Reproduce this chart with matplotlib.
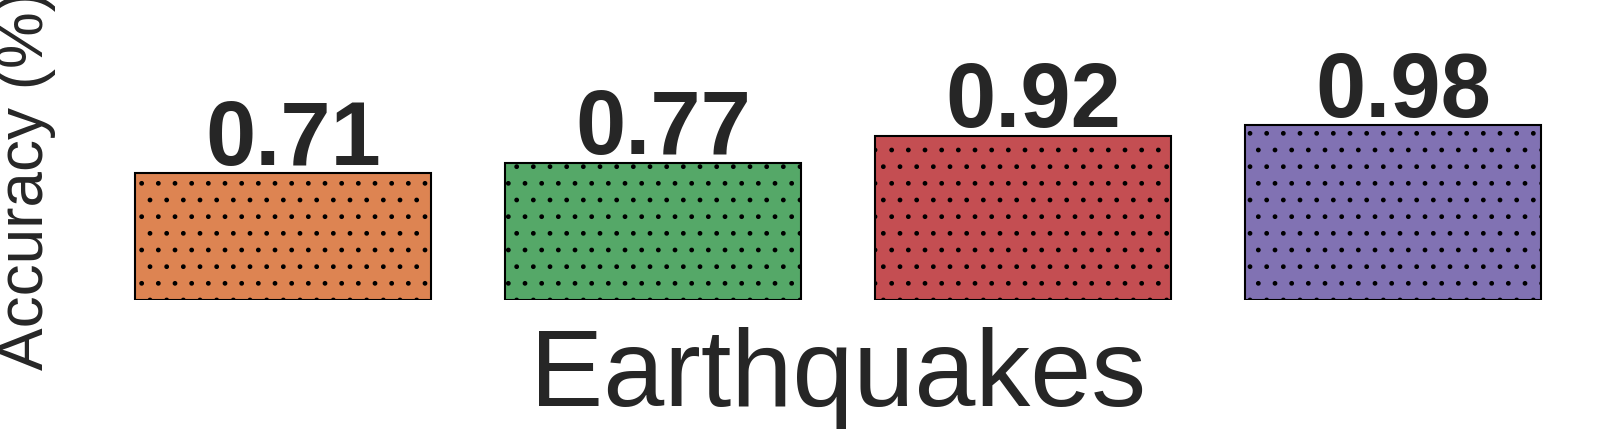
import matplotlib
matplotlib.use("Agg")
import matplotlib.pyplot as plt

plt.rcParams["font.family"] = ["Liberation Sans", "DejaVu Sans"]
plt.rcParams["hatch.color"] = "black"

models = ["A", "B", "C", "D"]
accuracy = [0.71, 0.77, 0.92, 0.98]
colors = ["#DD8452", "#55A868", "#C44E52", "#8172B3"]
dataset = "Earthquakes"

text_color = "#262626"

fig = plt.figure(figsize=(16.14, 4.315), dpi=100)
ax = fig.add_axes([64.7 / 1614, 131 / 431, 1547 / 1614, 240 / 431])

bars = ax.bar(range(len(models)), accuracy, width=0.8, color=colors,
              edgecolor="black", linewidth=1.5, hatch=".")
for rect, val in zip(bars, accuracy):
    ax.annotate(f"{val:.2f}", (rect.get_x() + rect.get_width() / 2, val),
                xytext=(7, -7), textcoords="offset points",
                ha="center", va="bottom", fontsize=65, fontweight="bold",
                color=text_color)

ax.set_ylim(0, 1.35)
ax.set_xticks([])
ax.set_yticks([])
for s in ax.spines.values():
    s.set_visible(False)

ax.set_xlabel(dataset, fontsize=79, color=text_color, labelpad=19)
ax.set_ylabel("Accuracy (%)", fontsize=46, color=text_color, labelpad=6)

fig.savefig("out.png", dpi=100)
